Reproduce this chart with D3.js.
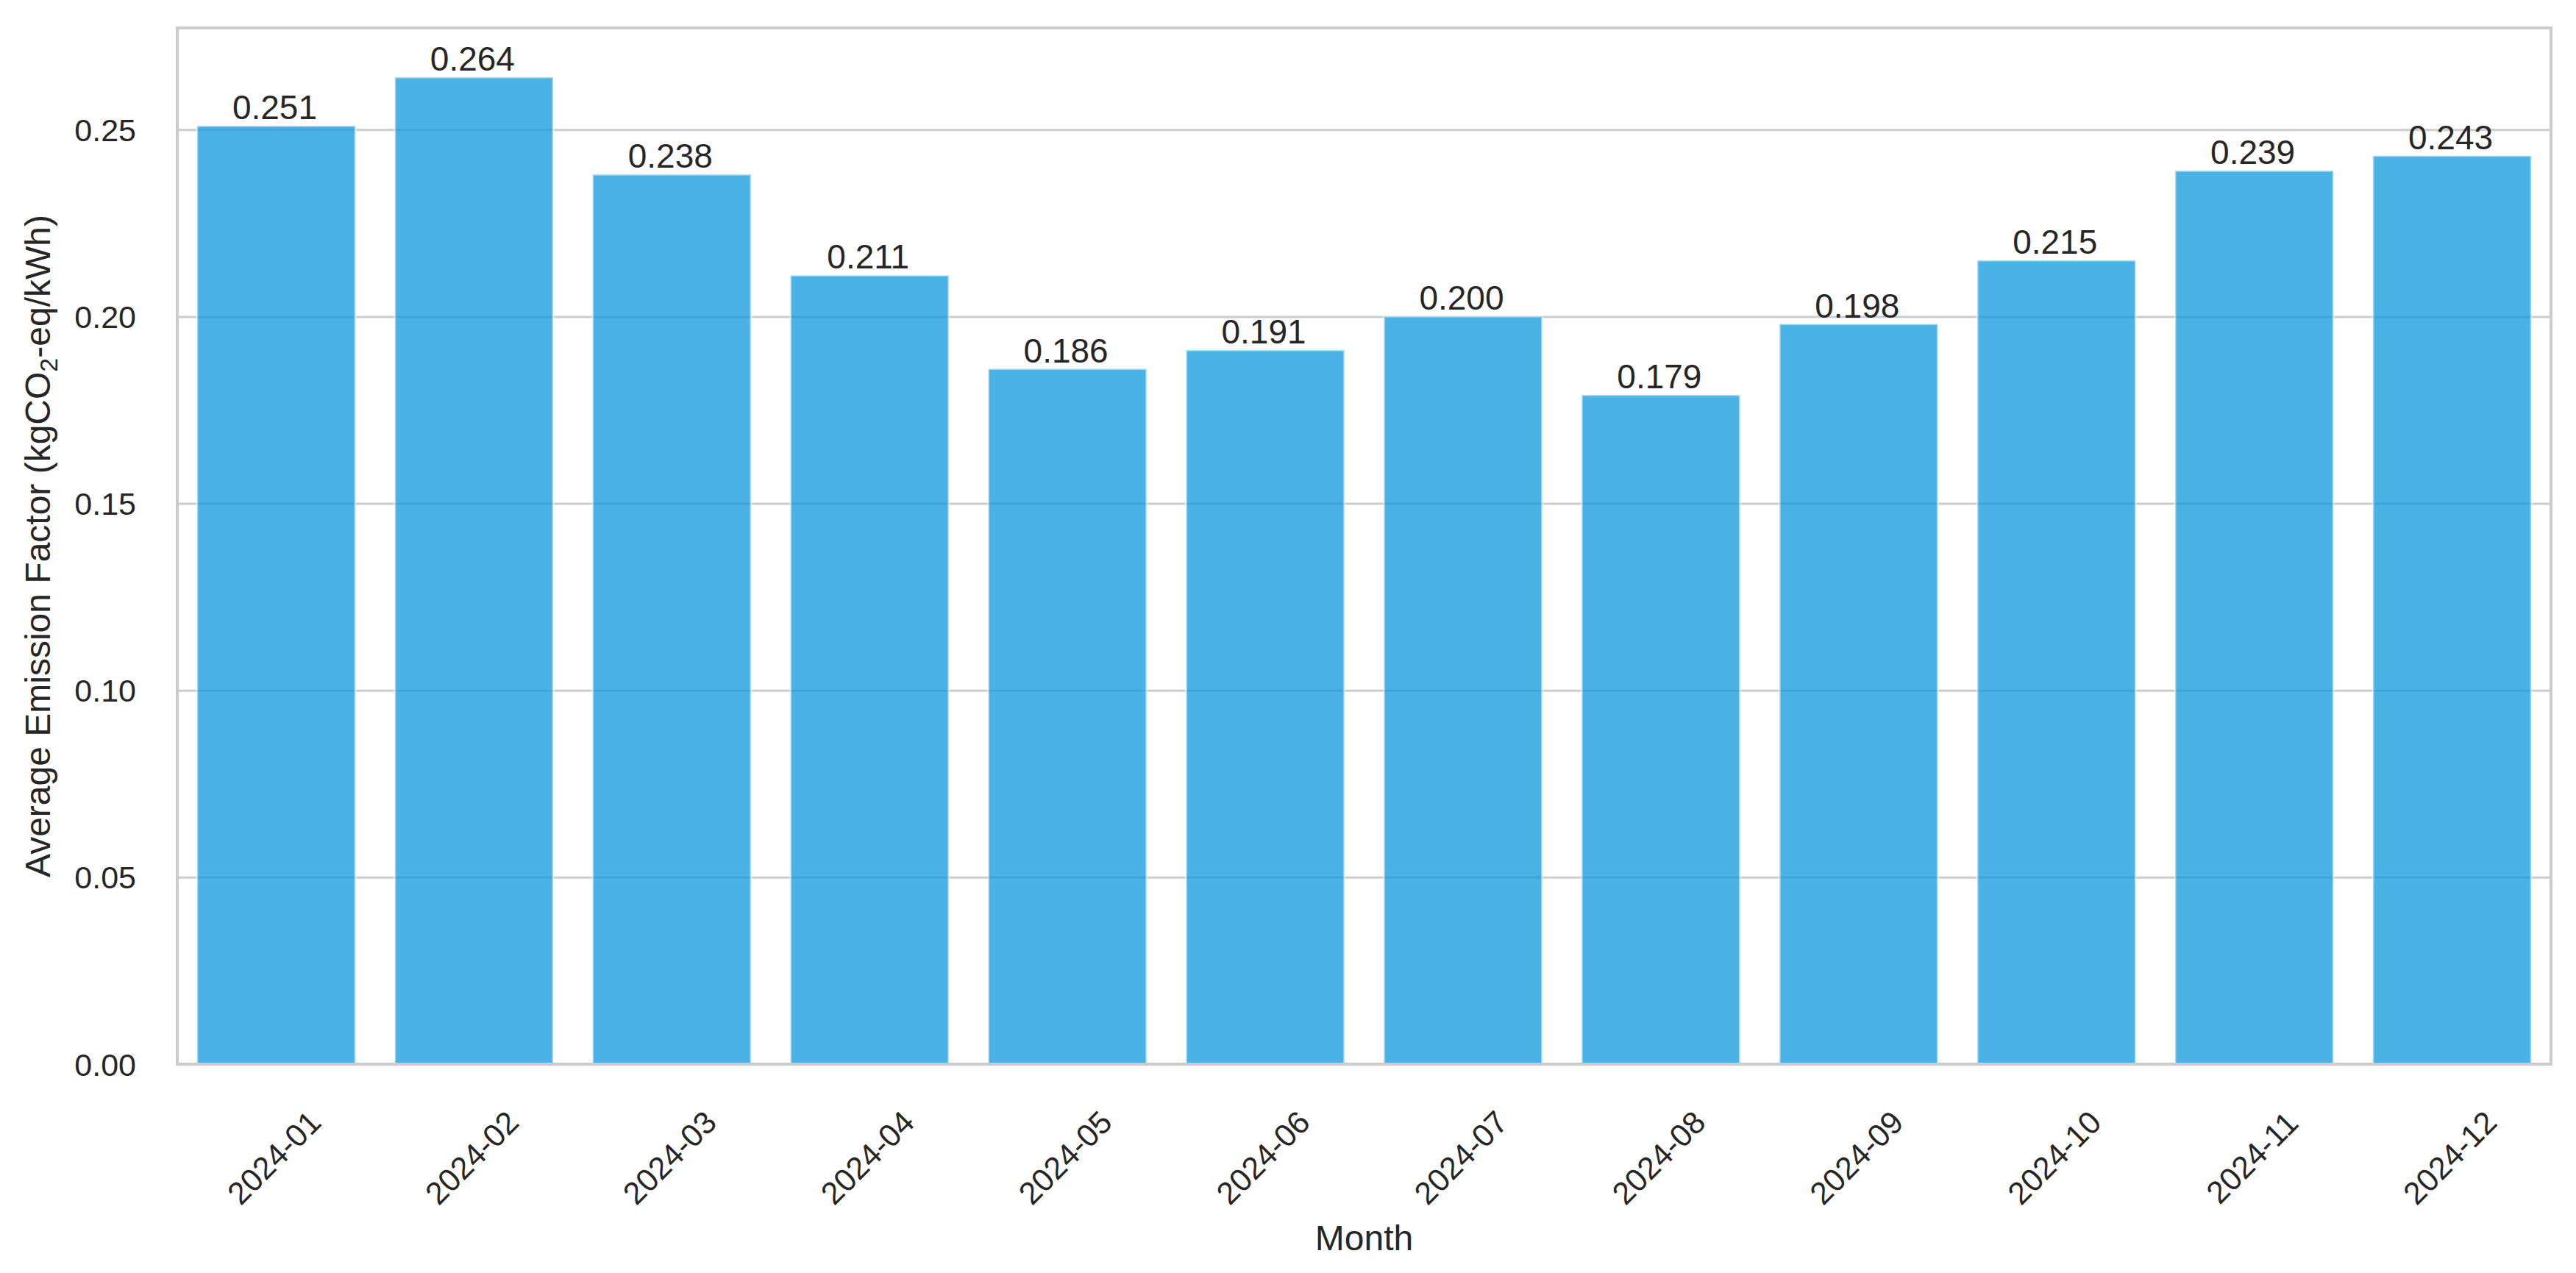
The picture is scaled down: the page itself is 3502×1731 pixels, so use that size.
<!DOCTYPE html>
<html>
<head>
<meta charset="utf-8">
<script src="https://cdn.jsdelivr.net/npm/d3@7"></script>
<style>
  html, body { margin: 0; padding: 0; background: #ffffff; }
  svg { display: block; }
</style>
</head>
<body>
<svg id="chart" width="3502" height="1731"></svg>
<script>
const months = ["2024-01","2024-02","2024-03","2024-04","2024-05","2024-06","2024-07","2024-08","2024-09","2024-10","2024-11","2024-12"];
const values = [0.251,0.264,0.238,0.211,0.186,0.191,0.200,0.179,0.198,0.215,0.239,0.243];
const yTicks = [0.00,0.05,0.10,0.15,0.20,0.25];
const xLabel = "Month";
const yLabelMain = "Average Emission Factor (kgCO";
const yLabelSub = "2";
const yLabelEnd = "-eq/kWh)";

const W = 3502, H = 1731;
const m = {left: 241, right: W - 3468, top: 38, bottom: H - 1447};
const iw = W - m.left - m.right, ih = H - m.top - m.bottom;
const font = "'Liberation Sans', Arial, sans-serif";
const textColor = "#262626";
const gridColor = "#cccccc";

const svg = d3.select("#chart");
svg.append("rect").attr("width", W).attr("height", H).attr("fill", "#ffffff");
const g = svg.append("g").attr("transform", `translate(${m.left},${m.top})`);

const x = d3.scaleBand().domain(months).range([0, iw]).paddingInner(0.2).paddingOuter(0.1);
const yMax = d3.max(values) * 1.05;
const y = d3.scaleLinear().domain([0, yMax]).range([ih, 0]);

// grid
const yAxis = d3.axisLeft(y).tickValues(yTicks).tickSize(-iw).tickPadding(56).tickFormat(d3.format(".2f"));
const ya = g.append("g").call(yAxis);
ya.select(".domain").remove();
ya.selectAll(".tick line").attr("stroke", gridColor).attr("stroke-width", 3);
ya.selectAll(".tick text").attr("font-family", font).attr("font-size", 43).attr("fill", textColor).attr("dy", "0.35em");

// bars
g.selectAll("rect.bar").data(values).enter().append("rect")
  .attr("class", "bar")
  .attr("x", (d, i) => x(months[i]))
  .attr("width", x.bandwidth())
  .attr("y", d => y(d))
  .attr("height", d => ih - y(d))
  .attr("fill", "#0e98db")
  .attr("fill-opacity", 0.75)
  .attr("stroke", "rgba(255,255,255,0.45)")
  .attr("stroke-width", 3);

// value labels
g.selectAll("text.val").data(values).enter().append("text")
  .attr("class", "val")
  .attr("x", (d, i) => x(months[i]) + x.bandwidth() / 2 - 2)
  .attr("y", d => y(d) - 9)
  .attr("text-anchor", "middle")
  .attr("font-family", font).attr("font-size", 46).attr("fill", textColor)
  .text(d => d3.format(".3f")(d));

// x tick labels
const xa = g.append("g").attr("transform", `translate(0,${ih})`)
  .call(d3.axisBottom(x).tickSize(0).tickFormat(""));
xa.select(".domain").remove();
g.selectAll("text.xt").data(months).enter().append("text")
  .attr("class", "xt")
  .attr("transform", d => `translate(${x(d) + x.bandwidth() / 2 - 3},${1574 - m.top}) rotate(-45)`)
  .attr("text-anchor", "middle")
  .attr("dominant-baseline", "central")
  .attr("font-family", font).attr("font-size", 43).attr("fill", textColor)
  .text(d => d);

// frame (spines)
g.append("rect").attr("x", 0).attr("y", 0).attr("width", iw).attr("height", ih)
  .attr("fill", "none").attr("stroke", gridColor).attr("stroke-width", 4);

// axis labels
svg.append("text")
  .attr("x", m.left + iw / 2).attr("y", 1700)
  .attr("text-anchor", "middle")
  .attr("font-family", font).attr("font-size", 48).attr("fill", textColor)
  .text(xLabel);

const yl = svg.append("text")
  .attr("transform", `translate(68,${m.top + ih / 2}) rotate(-90)`)
  .attr("text-anchor", "middle")
  .attr("font-family", font).attr("font-size", 48).attr("fill", textColor);
yl.append("tspan").text(yLabelMain);
yl.append("tspan").attr("font-size", 34).attr("dy", 10).text(yLabelSub);
yl.append("tspan").attr("dy", -10).text(yLabelEnd);
</script>
</body>
</html>
